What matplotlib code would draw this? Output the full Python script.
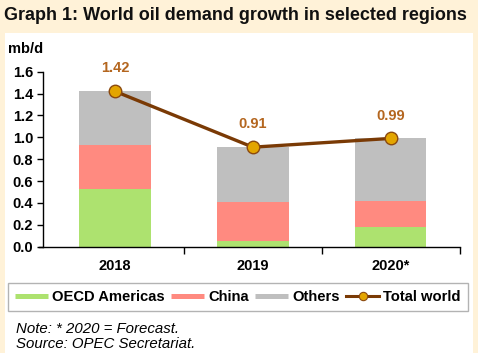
import matplotlib
matplotlib.use("Agg")
import matplotlib.pyplot as plt
from matplotlib.lines import Line2D
from matplotlib.patches import Rectangle

years = ["2018", "2019", "2020*"]
oecd_americas = [0.53, 0.055, 0.18]
china = [0.40, 0.35, 0.24]
others = [0.49, 0.505, 0.57]
total_world = [1.42, 0.91, 0.99]
yticks = [0.0, 0.2, 0.4, 0.6, 0.8, 1.0, 1.2, 1.4, 1.6]

c_green = "#ADE26F"
c_red = "#FF8A80"
c_gray = "#BFBFBF"
c_line = "#7A3A05"
c_mark = "#E3A500"
c_lab = "#B4661F"

plt.rcParams["font.family"] = ["Liberation Sans", "DejaVu Sans"]
fig = plt.figure(figsize=(4.78, 3.53), dpi=100)
fig.patch.set_facecolor("#FFF2D8")
W, H = 478, 353
fig.patches.append(Rectangle((5 / W, 0), 468 / W, 1 - 33 / H, transform=fig.transFigure,
                             facecolor="white", edgecolor="none", zorder=-5))

fig.text(4 / W, 1 - 16 / H, "Graph 1: World oil demand growth in selected regions",
         fontsize=13.0, fontweight="bold", va="center", ha="left", color="#111111")
fig.text(8 / W, 1 - 49 / H, "mb/d", fontsize=10.5, fontweight="bold", va="center", ha="left")

left, right = 43 / W, 459.5 / W
bottom, top = 1 - 246.7 / H, 1 - 71.7 / H
ax = fig.add_axes([left, bottom, right - left, top - bottom])
ax.set_zorder(2)
ax.set_facecolor("none")

x = list(range(len(years)))
bw = 0.52
b1 = [a for a in oecd_americas]
b2 = [a + b for a, b in zip(oecd_americas, china)]
ax.bar(x, oecd_americas, width=bw, color=c_green, zorder=2)
ax.bar(x, china, width=bw, bottom=b1, color=c_red, zorder=2)
ax.bar(x, others, width=bw, bottom=b2, color=c_gray, zorder=2)
ax.plot(x, total_world, color=c_line, lw=2.4, marker="o", markersize=9,
        markerfacecolor=c_mark, markeredgecolor="#8B4A10", markeredgewidth=1.0, zorder=4,
        clip_on=False)
for xi, v in zip(x, total_world):
    ax.annotate(f"{v:.2f}", (xi, v), xytext=(0, 16.5), textcoords="offset points",
                ha="center", va="center", fontsize=10.5, fontweight="bold", color=c_lab)

ax.set_xlim(-0.524, 2.5)
ax.set_ylim(0, 1.6)
ax.set_yticks(yticks)
ax.set_yticklabels([f"{t:.1f}" for t in yticks], fontsize=10.5, fontweight="bold")
ax.set_xticks(x)
ax.set_xticklabels(years, fontsize=10.5, fontweight="bold")
ax.set_xticks([0.5, 1.5, 2.5], minor=True)
ax.tick_params(axis="x", which="major", length=0, pad=9)
ax.tick_params(axis="x", which="minor", length=5, direction="out", width=1)
ax.tick_params(axis="y", length=4, direction="out", width=1, pad=3)
for s in ["top", "right"]:
    ax.spines[s].set_visible(False)
ax.spines["left"].set_linewidth(1)
ax.spines["bottom"].set_linewidth(1)
ax.spines["bottom"].set_bounds(-0.55, 2.5)

handles = [
    Line2D([], [], color=c_green, lw=3.6, solid_capstyle="butt"),
    Line2D([], [], color=c_red, lw=3.6, solid_capstyle="butt"),
    Line2D([], [], color=c_gray, lw=3.6, solid_capstyle="butt"),
    Line2D([], [], color=c_line, lw=2.2, marker="o", markersize=6,
           markerfacecolor=c_mark, markeredgecolor="#8B4A10", markeredgewidth=0.8),
]
labels = ["OECD Americas", "China", "Others", "Total world"]
leg = fig.legend(handles, labels, loc="center", bbox_to_anchor=(238 / W, 1 - 297 / H),
                 ncol=4, prop={"weight": "bold", "size": 10.6},
                 handlelength=2.2, handletextpad=0.3, columnspacing=0.45,
                 frameon=True, fancybox=False, edgecolor="#A0A0A0", borderpad=0.5,
                 borderaxespad=0)
leg.get_frame().set_linewidth(1.0)

fig.text(16 / W, 1 - 329 / H, "Note: * 2020 = Forecast.", fontsize=10.8, style="italic",
         va="center", ha="left")
fig.text(16 / W, 1 - 344 / H, "Source: OPEC Secretariat.", fontsize=10.8, style="italic",
         va="center", ha="left")

fig.savefig("out.png", dpi=100, facecolor=fig.get_facecolor())
